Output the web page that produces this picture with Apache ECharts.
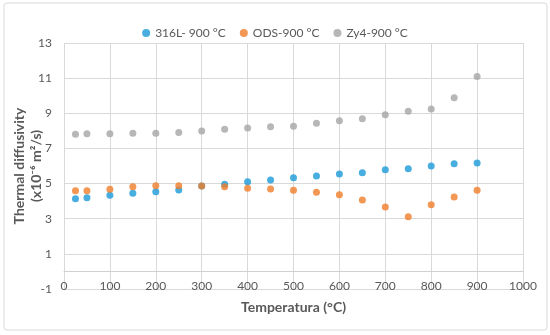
<!DOCTYPE html>
<html>
<head>
<meta charset="utf-8">
<script src="https://cdn.jsdelivr.net/npm/echarts@6/dist/echarts.min.js"></script>
<style>html,body{margin:0;padding:0;background:#fff}#c{width:550px;height:335px}</style>
</head>
<body>
<div id="c"></div>
<script>
const temperatures = [25, 50, 100, 150, 200, 250, 300, 350, 400, 450, 500, 550, 600, 650, 700, 750, 800, 850, 900];
const s316L = [4.14, 4.20, 4.33, 4.45, 4.54, 4.63, 4.86, 4.96, 5.11, 5.20, 5.33, 5.43, 5.54, 5.62, 5.79, 5.85, 6.00, 6.13, 6.17];
const sODS  = [4.59, 4.59, 4.67, 4.82, 4.88, 4.88, 4.86, 4.82, 4.73, 4.69, 4.62, 4.50, 4.37, 4.06, 3.67, 3.11, 3.80, 4.24, 4.62];
const sZy4  = [7.80, 7.84, 7.84, 7.86, 7.86, 7.90, 7.99, 8.09, 8.16, 8.24, 8.26, 8.43, 8.58, 8.69, 8.92, 9.11, 9.24, 9.89, 11.10];
const seriesNames = ['316L- 900 °C', 'ODS-900 °C', 'Zy4-900 °C'];
const colors = ['#1a9ad8', '#f07d2a', '#a5a5a5'];

const pair = arr => temperatures.map((t, i) => [t, arr[i]]);
const font = 'Lato, "Open Sans", sans-serif';
const chart = echarts.init(document.getElementById('c'));
chart.setOption({
  animation: false,
  textStyle: { fontFamily: font },
  graphic: [{
    type: 'rect', shape: { x: 4, y: 3, width: 543, height: 327, r: 3 },
    style: { fill: 'none', stroke: '#d9d9d9', lineWidth: 1 }, z: -1
  }],
  legend: {
    top: 22, left: 'center', itemWidth: 8, itemHeight: 8, itemGap: 14,
    icon: 'circle',
    textStyle: { color: '#595959', fontSize: 12, fontFamily: font },
    data: seriesNames
  },
  grid: { left: 64, right: 27, top: 43, bottom: 46, outerBoundsMode: 'none', containLabel: false },
  xAxis: {
    type: 'value', min: 0, max: 1000, interval: 100,
    axisLine: { onZero: true, lineStyle: { color: '#d0d0d0' } },
    axisTick: { show: false },
    axisLabel: { color: '#595959', fontSize: 12, margin: -9, fontFamily: font, formatter: v => String(v) },
    splitLine: { show: true, lineStyle: { color: '#d9d9d9' } },
    name: 'Temperatura (°C)', nameLocation: 'middle', nameGap: 11, nameMoveOverlap: false,
    nameTextStyle: { color: '#595959', fontSize: 14, fontWeight: 'bold', fontFamily: font }
  },
  yAxis: {
    type: 'value', min: -1, max: 13, interval: 2,
    axisLine: { show: false },
    axisTick: { show: false },
    axisLabel: { color: '#595959', fontSize: 12, margin: 12, fontFamily: font },
    splitLine: { show: true, lineStyle: { color: '#d9d9d9' } },
    name: 'Thermal diffusivity\n(x10⁻⁶ m²/s)', nameLocation: 'middle', nameGap: 19, nameMoveOverlap: false,
    nameTextStyle: { color: '#595959', fontSize: 14, fontWeight: 'bold', lineHeight: 17, fontFamily: font }
  },
  series: [
    { name: seriesNames[0], type: 'scatter', symbolSize: 7, itemStyle: { color: colors[0] }, data: pair(s316L) },
    { name: seriesNames[1], type: 'scatter', symbolSize: 7, itemStyle: { color: colors[1] }, data: pair(sODS) },
    { name: seriesNames[2], type: 'scatter', symbolSize: 7, itemStyle: { color: colors[2] }, data: pair(sZy4) }
  ]
});
</script>
</body>
</html>
